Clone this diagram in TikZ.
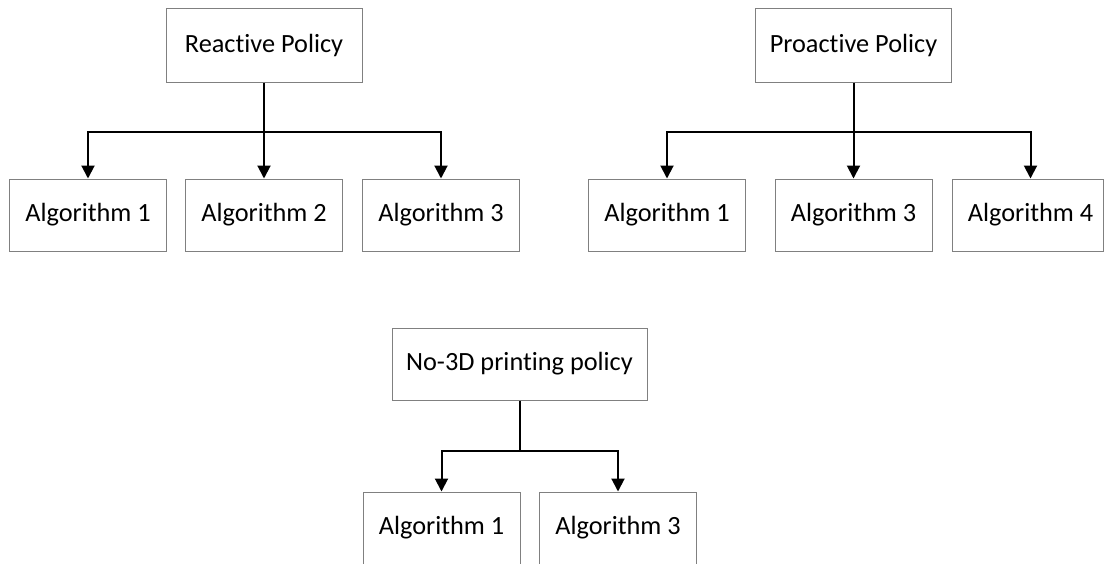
\documentclass[tikz,border=0pt]{standalone}
\usepackage{fontspec}
\setmainfont[Ligatures=NoCommon]{Carlito}
\usetikzlibrary{arrows.meta}
\begin{document}
\begin{tikzpicture}[x=1pt,y=-1pt,
        box/.style={draw=gray,line width=1pt,inner sep=0pt,minimum height=72,font=\fontsize{26.3}{31}\selectfont},
        policy/.style={box,minimum width=196,minimum height=74},
        algo/.style={box,minimum width=157},
        arr/.style={line width=2pt,-{Triangle[length=13pt,width=13pt]}}]
        \useasboundingbox (0,0) rectangle (1104,563);
        % reactive policy
        \node[policy] (reactive) at (264,45) {Reactive Policy};
        \node[algo] (r1) at (88,215) {Algorithm 1};
        \node[algo] (r2) at (264,215) {Algorithm 2};
        \node[algo] (r3) at (441,215) {Algorithm 3};
        \coordinate (rbus) at (264,132);
        \draw[line width=2pt] (reactive) -- (rbus);
        \foreach \n in {r1,r2,r3} \draw[arr] (rbus) -| (\n);
        % proactive policy
        \node[policy] (proactive) at (853.5,45) {Proactive Policy};
        \node[algo] (p1) at (667,215) {Algorithm 1};
        \node[algo] (p3) at (853.5,215) {Algorithm 3};
        \node[algo,minimum width=151] (p4) at (1028,215) {\hspace*{5pt}Algorithm 4};
        \coordinate (pbus) at (853.5,132);
        \draw[line width=2pt] (proactive) -- (pbus);
        \draw[arr] (pbus) -| (p1);
        \draw[arr] (pbus) -- (p3);
        \draw[arr] (pbus) -| ([xshift=2.5pt]p4.north);
        % no 3D printing
        \node[box,minimum width=255] (nothreed) at (519.5,364) {No-3D printing policy};
        \node[algo] (n1) at (441.5,528) {Algorithm 1};
        \node[algo] (n3) at (618,528) {Algorithm 3};
        \coordinate (nbus) at (519.5,451);
        \draw[line width=2pt] (nothreed) -- (nbus);
        \foreach \n in {n1,n3} \draw[arr] (nbus) -| (\n);
    \end{tikzpicture}
\end{document}
